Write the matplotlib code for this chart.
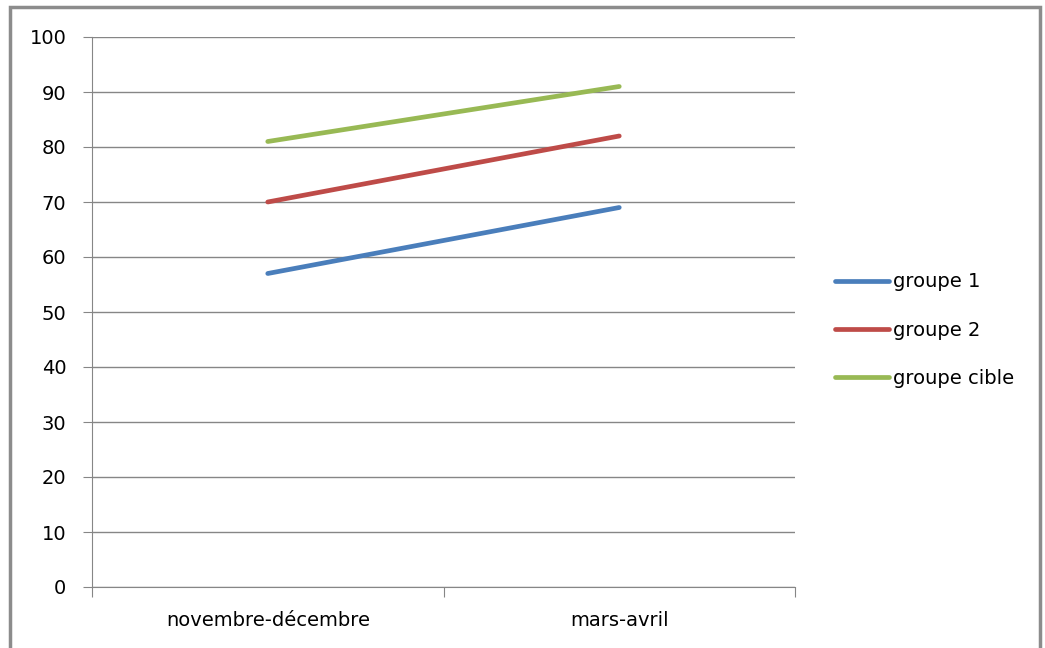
import matplotlib.pyplot as plt
from matplotlib.patches import Rectangle

# données
periodes = ['novembre-décembre', 'mars-avril']
groupe_1 = [57, 69]
groupe_2 = [70, 82]
groupe_cible = [81, 91]
series = [('groupe 1', groupe_1, '#4A7EBB'),
          ('groupe 2', groupe_2, '#BE4B48'),
          ('groupe cible', groupe_cible, '#98B954')]

plt.rcParams['font.family'] = ['DejaVu Sans']

fig = plt.figure(figsize=(10.45, 6.48), dpi=100)
ax = fig.add_axes([92 / 1045, 1 - 587 / 648, (795 - 92) / 1045, (587 - 37) / 648])

x = list(range(len(periodes)))
for nom, vals, coul in series:
    ax.plot(x, vals, color=coul, lw=3.4, solid_capstyle='round', label=nom, zorder=3)

ax.set_ylim(0, 100)
ax.set_yticks(range(0, 101, 10))
ax.yaxis.grid(True, color='#868686', lw=1)
ax.set_xlim(-0.5, len(periodes) - 0.5)
ax.set_xticks([i - 0.5 for i in range(len(periodes) + 1)])
ax.set_xticklabels([])
ax.set_xticks(x, minor=True)
ax.set_xticklabels(periodes, minor=True)
ax.tick_params(axis='x', which='major', length=7, color='#868686')
ax.tick_params(axis='x', which='minor', length=0, pad=17, labelsize=14)
ax.tick_params(axis='y', length=6.5, color='#868686', labelsize=14, pad=12)

for s in ['top', 'right']:
    ax.spines[s].set_visible(False)
for s in ['left', 'bottom']:
    ax.spines[s].set_color('#868686')
ax.set_axisbelow(True)

fig.legend(loc='center left', bbox_to_anchor=(825 / 1045, 1 - 330 / 648),
           frameon=False, fontsize=14, handlelength=2.8, handletextpad=0.2,
           labelspacing=1.5, borderpad=0)

# cadre du graphique
fig.add_artist(Rectangle((10 / 1045, -0.1), 1030 / 1045, 0.1 + 1 - 7 / 648,
                         transform=fig.transFigure, fill=False,
                         edgecolor='#8C8C8C', lw=2.5))

fig.savefig('out.png', dpi=100)
